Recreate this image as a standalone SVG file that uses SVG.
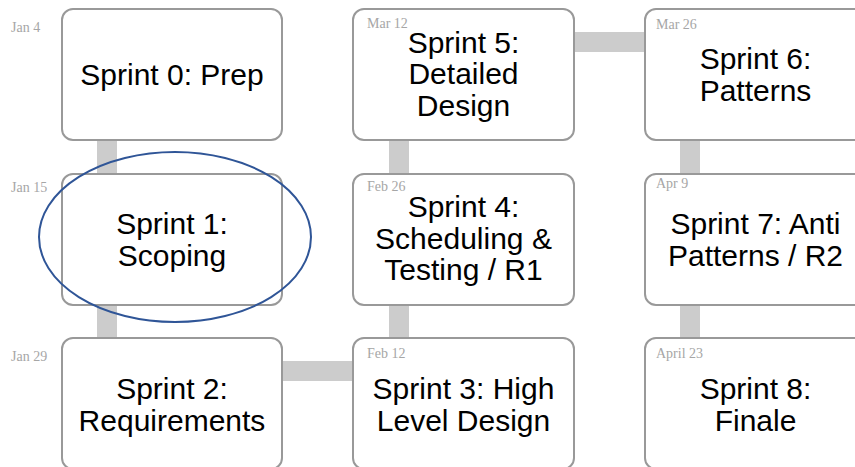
<svg xmlns="http://www.w3.org/2000/svg" width="855" height="467" viewBox="0 0 855 467">
<style>
.box{fill:#ffffff;stroke:#999999;stroke-width:2}
.conn{fill:#cccccc;stroke:none}
.lbl{font-family:"Liberation Sans",Arial,sans-serif;font-size:30px;fill:#000000;text-anchor:middle}
.date{font-family:"Liberation Serif","Times New Roman",serif;font-size:14px;fill:#a6a6a6}
</style>
<rect width="855" height="467" fill="#ffffff"/>
<g id="connectors">
<rect class="conn" x="97" y="139" width="20" height="36"/>
<rect class="conn" x="97" y="304" width="20" height="36"/>
<rect class="conn" x="281" y="361" width="73" height="20"/>
<rect class="conn" x="389" y="304" width="20" height="36"/>
<rect class="conn" x="389" y="139" width="20" height="36"/>
<rect class="conn" x="573" y="32" width="73" height="20"/>
<rect class="conn" x="680" y="139" width="20" height="36"/>
<rect class="conn" x="680" y="304" width="20" height="36"/>
</g>
<g id="sprint0">
<rect class="box" x="62" y="9" width="220" height="131" rx="11"/>
<text class="lbl" x="172" y="85">Sprint 0: Prep</text>
<text class="date" x="11" y="32">Jan 4</text>
</g>
<g id="sprint1">
<rect class="box" x="62" y="174" width="220" height="131" rx="11"/>
<text class="lbl" x="172" y="234">Sprint 1:</text>
<text class="lbl" x="172" y="266">Scoping</text>
<text class="date" x="11" y="192">Jan 15</text>
</g>
<g id="sprint2">
<rect class="box" x="62" y="338" width="220" height="131" rx="11"/>
<text class="lbl" x="172" y="399">Sprint 2:</text>
<text class="lbl" x="172" y="431">Requirements</text>
<text class="date" x="11" y="361">Jan 29</text>
</g>
<g id="sprint3">
<rect class="box" x="353" y="338" width="221" height="131" rx="11"/>
<text class="lbl" x="463.5" y="399">Sprint 3: High</text>
<text class="lbl" x="463.5" y="431">Level Design</text>
<text class="date" x="367" y="358">Feb 12</text>
</g>
<g id="sprint4">
<rect class="box" x="353" y="174" width="221" height="131" rx="11"/>
<text class="lbl" x="463.5" y="217">Sprint 4:</text>
<text class="lbl" x="463.5" y="248.5">Scheduling &amp;</text>
<text class="lbl" x="463.5" y="280">Testing / R1</text>
<text class="date" x="367" y="191">Feb 26</text>
</g>
<g id="sprint5">
<rect class="box" x="353" y="9" width="221" height="131" rx="11"/>
<text class="lbl" x="463.5" y="53">Sprint 5:</text>
<text class="lbl" x="463.5" y="84">Detailed</text>
<text class="lbl" x="463.5" y="115.5">Design</text>
<text class="date" x="367" y="28">Mar 12</text>
</g>
<g id="sprint6">
<rect class="box" x="645" y="9" width="221" height="131" rx="11"/>
<text class="lbl" x="755.5" y="69">Sprint 6:</text>
<text class="lbl" x="755.5" y="101">Patterns</text>
<text class="date" x="656" y="29">Mar 26</text>
</g>
<g id="sprint7">
<rect class="box" x="645" y="174" width="221" height="131" rx="11"/>
<text class="lbl" x="755.5" y="234">Sprint 7: Anti</text>
<text class="lbl" x="755.5" y="266">Patterns / R2</text>
<text class="date" x="656" y="188">Apr 9</text>
</g>
<g id="sprint8">
<rect class="box" x="645" y="338" width="221" height="131" rx="11"/>
<text class="lbl" x="755.5" y="399">Sprint 8:</text>
<text class="lbl" x="755.5" y="431">Finale</text>
<text class="date" x="656" y="358">April 23</text>
</g>
<g id="highlight">
<ellipse cx="175" cy="237" rx="136" ry="85" fill="none" stroke="#2f5597" stroke-width="2"/>
</g>
</svg>
